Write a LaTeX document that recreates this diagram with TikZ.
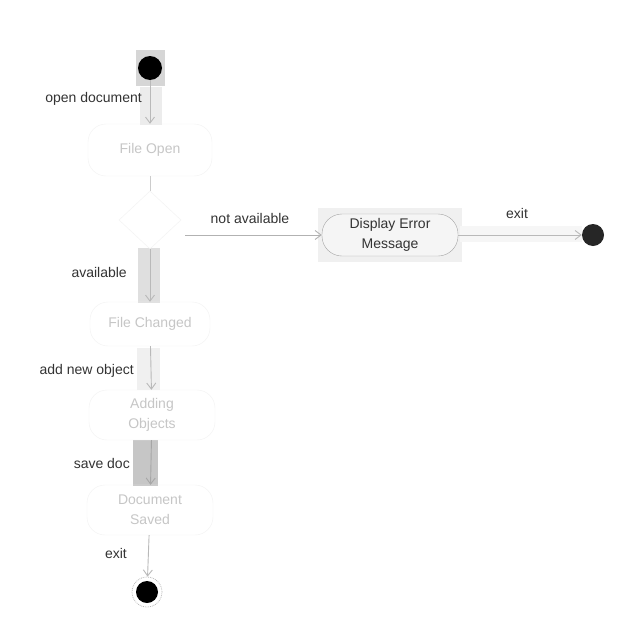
\documentclass[tikz,border=0pt]{standalone}
\usepackage{fontspec}
\setmainfont{Liberation Sans}
\usetikzlibrary{arrows.meta,shapes.geometric}
\tikzset{
  flow/.style={draw=gray!55, line width=0.9pt, -{Straight Barb[length=6pt,width=9pt]}},
  faintstate/.style={draw=gray!10, rounded corners=18pt, text=gray!45, align=center, inner sep=2pt},
  lbl/.style={text=black!80, inner sep=1pt},
}
\begin{document}
\begin{tikzpicture}[x=1pt,y=-1pt, font=\fontsize{14}{20}\selectfont]
\useasboundingbox (0,0) rectangle (640,640);
\fill[white] (0,0) rectangle (640,640);
% highlight bands
\fill[gray!32] (136,50) rectangle (165,86);
\fill[gray!15] (140,87) rectangle (162,125);
\fill[gray!25] (138,248) rectangle (160,303);
\fill[gray!12] (137,348) rectangle (160,390);
\fill[gray!45] (133,440) rectangle (158,486);
\fill[gray!12] (318,208) rectangle (462,262);
\fill[gray!7] (460,226) rectangle (582,242);
% nodes
\node[circle, fill=black, minimum size=24pt, inner sep=0pt] (init) at (150,68) {};
\node[faintstate, minimum width=124pt, minimum height=52pt] (open) at (150,150) {File Open};
\node[diamond, draw=gray!10, minimum width=62pt, minimum height=58pt, inner sep=0pt] (dec) at (150,220) {};
\node[draw=gray!70, fill=gray!8, rounded corners=20pt, minimum width=136pt, minimum height=42pt, align=center, text=black!80, inner sep=1pt] (err) at (390,235) {Display Error\\Message};
\node[circle, fill=black!85, minimum size=22pt, inner sep=0pt] (fin1) at (593,235) {};
\node[faintstate, minimum width=120pt, minimum height=44pt] (changed) at (150,324) {File Changed};
\node[faintstate, minimum width=126pt, minimum height=50pt] (adding) at (152,415) {Adding\\Objects};
\node[faintstate, minimum width=126pt, minimum height=50pt] (saved) at (150,510) {Document\\Saved};
\node[circle, draw=gray!55, densely dotted, line width=0.8pt, minimum size=30pt, inner sep=0pt] (fin2) at (147,592) {};
\node[circle, fill=black, minimum size=22pt, inner sep=0pt] (fin2dot) at (fin2) {};
% connectors
\draw[flow] (init) -- (open);
\draw[draw=gray!40, line width=1pt] (open) -- (dec);
\draw[flow, draw=gray!60] ([xshift=4pt]dec.east |- err.west) -- (err.west);
\draw[flow] (err.east) -- (fin1);
\draw[flow] (dec.south) -- (changed.north);
\draw[flow] (changed) -- (adding);
\draw[flow, draw=gray!70] (adding) -- (saved);
\draw[flow] (saved) -- (fin2);
% labels
\node[lbl, anchor=east] (l1) at (143,99) {open document};
\node[lbl] (l2) at (250,218) {not available};
\node[lbl] (l3) at (517,213) {exit};
\node[lbl, anchor=east] (l4) at (128,272) {available};
\node[lbl, anchor=east] (l5) at (135,371) {add new object};
\node[lbl, anchor=east] (l6) at (131,463) {save doc};
\node[lbl, anchor=east] (l7) at (128,553) {exit};
\end{tikzpicture}
\end{document}
